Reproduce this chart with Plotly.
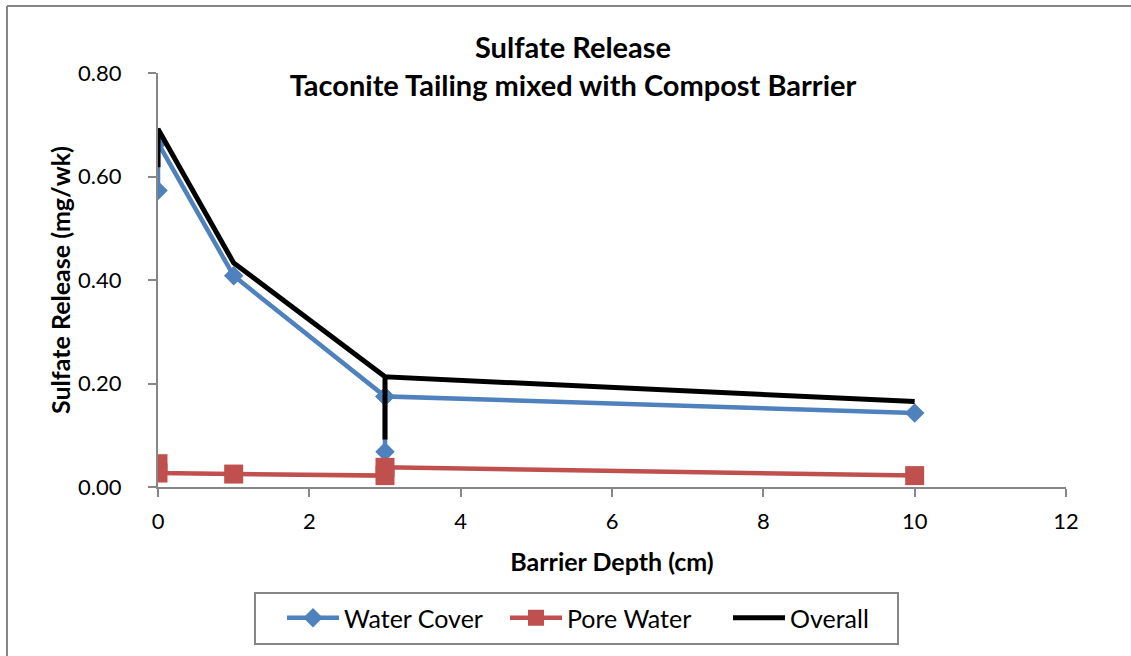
import plotly.graph_objects as go

# Data; points listed in the order the lines are drawn
water_x = [0, 0, 1, 3, 3, 3, 10]
water_y = [0.573, 0.665, 0.408, 0.175, 0.068, 0.175, 0.143]

pore_x = [0, 0, 1, 3, 3, 10]
pore_y = [0.045, 0.027, 0.025, 0.022, 0.038, 0.022]

overall_x = [0, 0, 1, 3, 3, 3, 10]
overall_y = [0.618, 0.692, 0.433, 0.213, 0.092, 0.213, 0.165]

x_ticks = [0, 2, 4, 6, 8, 10, 12]
y_ticks = [0.0, 0.2, 0.4, 0.6, 0.8]
y_tick_labels = ["0.00", "0.20", "0.40", "0.60", "0.80"]

FONT = "Lato"
GREY = "#868686"

fig = go.Figure()
fig.add_trace(go.Scatter(
    x=water_x, y=water_y, name="Water Cover", mode="lines+markers",
    line=dict(color="#4F81BD", width=4.5),
    marker=dict(symbol="diamond", size=15, color="#4F81BD"),
))
fig.add_trace(go.Scatter(
    x=pore_x, y=pore_y, name="Pore Water", mode="lines+markers",
    line=dict(color="#C0504D", width=4.5),
    marker=dict(symbol="square", size=19, color="#C0504D"),
))
fig.add_trace(go.Scatter(
    x=overall_x, y=overall_y, name="Overall", mode="lines",
    line=dict(color="black", width=5),
))

W, H = 1131, 656
L, R, T, B = 158, 65, 73, 169
PW, PH = W - L - R, H - T - B


def px(x):
    return (x - L) / PW


def py(y):
    return (H - B - y) / PH


fig.update_layout(
    width=W, height=H,
    margin=dict(l=L, r=R, t=T, b=B, pad=0),
    paper_bgcolor="white", plot_bgcolor="white",
    font=dict(family=FONT, size=22, color="black"),
    title=dict(
        text="<b>Sulfate Release<br>Taconite Tailing mixed with Compost Barrier</b>",
        x=573 / W, xanchor="center",
        y=1 - 58 / H, yanchor="middle",
        font=dict(family=FONT, size=29, color="black"),
    ),
    xaxis=dict(
        range=[0, 12], tickvals=x_ticks, ticktext=[str(v) for v in x_ticks],
        showgrid=False, zeroline=False, showline=True, linecolor=GREY, linewidth=2,
        ticks="outside", ticklen=8, tickwidth=2, tickcolor=GREY,
        tickfont=dict(family=FONT, size=22), ticklabelstandoff=6,
        title=dict(text="<b>Barrier Depth (cm)</b>", font=dict(family=FONT, size=25), standoff=20),
    ),
    yaxis=dict(
        range=[0, 0.8], tickvals=y_ticks, ticktext=y_tick_labels,
        showgrid=False, zeroline=False, showline=True, linecolor=GREY, linewidth=2,
        ticks="outside", ticklen=8, tickwidth=2, tickcolor=GREY,
        tickfont=dict(family=FONT, size=22), ticklabelstandoff=22,
        title=dict(text="<b>Sulfate Release (mg/wk)</b>", font=dict(family=FONT, size=25), standoff=0),
    ),
    showlegend=True,
    legend=dict(
        orientation="h",
        x=px(282), xanchor="left",
        y=py(618), yanchor="middle",
        borderwidth=0, bgcolor="rgba(0,0,0,0)",
        font=dict(family=FONT, size=25),
        itemwidth=52,
        entrywidth=156, entrywidthmode="pixels",
    ),
)

# Legend frame
fig.add_shape(type="rect", xref="paper", yref="paper",
              x0=px(255), x1=px(898), y0=py(644), y1=py(593),
              line=dict(color=GREY, width=2), fillcolor="rgba(0,0,0,0)", layer="below")

# Chart-area border (visible on top and left in the reference)
fig.add_shape(type="line", xref="paper", yref="paper",
              x0=px(7), x1=px(W + 5), y0=py(6), y1=py(6),
              line=dict(color=GREY, width=2))
fig.add_shape(type="line", xref="paper", yref="paper",
              x0=px(7), x1=px(7), y0=py(6), y1=py(H + 5),
              line=dict(color=GREY, width=2))

fig.write_html("out.html")
